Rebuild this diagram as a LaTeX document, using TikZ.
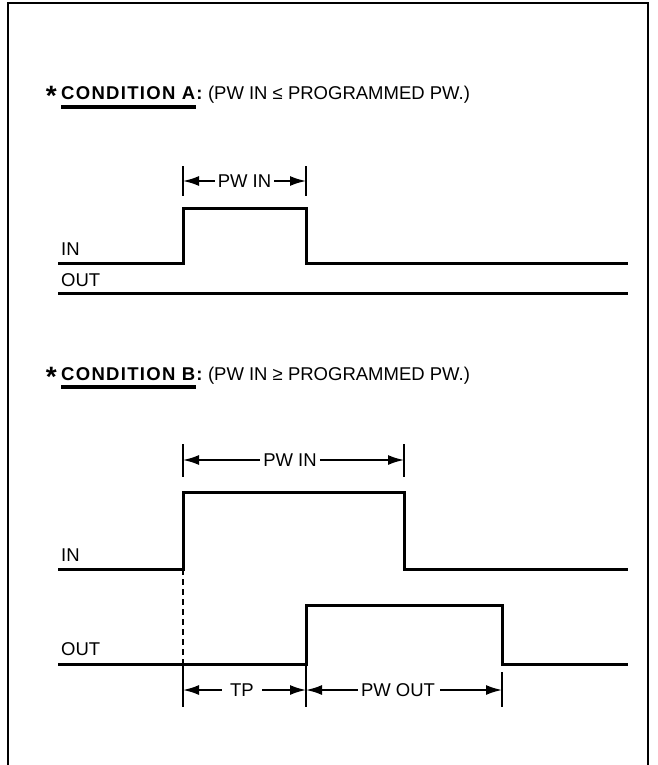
\documentclass[tikz,border=0pt]{standalone}
\usepackage{fontspec}
\setmainfont{Liberation Sans}
\newfontfamily\hdfont[LetterSpace=7]{Liberation Sans}
\usetikzlibrary{arrows.meta}
\begin{document}
\begin{tikzpicture}[x=1pt,y=-1pt,
  txt/.style={font=\fontsize{18.5}{19}\selectfont, inner sep=0pt},
  startxt/.style={font=\fontsize{28}{28}\selectfont\bfseries, inner sep=0pt},
  sig/.style={line width=3pt, line join=miter},
  tick/.style={line width=2pt},
  dimarr/.style={line width=1.8pt, -{Latex[length=16pt,width=10pt]}},
  uline/.style={line width=3.5pt},
  frame/.style={line width=2pt},
  dashln/.style={line width=1.3pt, dash pattern=on 6pt off 4pt}]
\useasboundingbox (0,0) rectangle (657,765);
\draw[frame] (8,766) -- (8,3) -- (648,3) -- (648,766);

% ---------- Condition A header
\node[txt, anchor=base west] (condA) at (61,100) {\hdfont\bfseries CONDITION A:};
\node[startxt, anchor=base east] (starA) at ([xshift=-4pt,yshift=-6pt]condA.base west) {*};
\node[txt, anchor=base west] (restA) at ([xshift=5pt]condA.base east) {(PW IN ≤ PROGRAMMED PW.)};
\draw[uline] ([yshift=-7pt]condA.base west) -- ([yshift=-7pt,xshift=-7pt]condA.base east);

% ---------- Condition A waveforms
\node[txt, anchor=base west] (inA) at (61,255) {IN};
\node[txt, anchor=base west] (outA) at (61,286) {OUT};
\coordinate (a0) at (58,263);
\coordinate (a1) at (183,263);
\coordinate (a2) at (183,208);
\coordinate (a3) at (306,208);
\coordinate (a4) at (306,263);
\coordinate (a5) at (628,263);
\draw[sig] (a0) -- (a1) -- (a2) -- (a3) -- (a4) -- (a5);
\coordinate (ao0) at (58,293);
\coordinate (ao1) at (628,293);
\draw[sig] (ao0) -- (ao1);

% dimension PW IN (A)
\coordinate (aLt) at (183,166); \coordinate (aLb) at (183,196);
\coordinate (aRt) at (306,166); \coordinate (aRb) at (306,196);
\coordinate (aL) at (183,181); \coordinate (aR) at (306,181);
\draw[tick] (aLt) -- (aLb);
\draw[tick] (aRt) -- (aRb);
\node[txt] (pwA) at (244.5,181) {PW IN};
\draw[dimarr] ([xshift=-3pt]pwA.west) -- (aL);
\draw[dimarr] ([xshift=3pt]pwA.east) -- (aR);

% ---------- Condition B header
\node[txt, anchor=base west] (condB) at (61,380) {\hdfont\bfseries CONDITION B:};
\node[startxt, anchor=base east] (starB) at ([xshift=-4pt,yshift=-6pt]condB.base west) {*};
\node[txt, anchor=base west] (restB) at ([xshift=5pt]condB.base east) {(PW IN ≥ PROGRAMMED PW.)};
\draw[uline] ([yshift=-7pt]condB.base west) -- ([yshift=-7pt,xshift=-7pt]condB.base east);

% ---------- Condition B waveforms
\node[txt, anchor=base west] (inB) at (61,561) {IN};
\node[txt, anchor=base west] (outB) at (61,655) {OUT};
\coordinate (b0) at (58,569);
\coordinate (b1) at (183,569);
\coordinate (b2) at (183,492);
\coordinate (b3) at (404,492);
\coordinate (b4) at (404,569);
\coordinate (b5) at (628,569);
\draw[sig] (b0) -- (b1) -- (b2) -- (b3) -- (b4) -- (b5);
\coordinate (c0) at (58,664);
\coordinate (c1) at (306,664);
\coordinate (c2) at (306,605);
\coordinate (c3) at (502,605);
\coordinate (c4) at (502,664);
\coordinate (c5) at (628,664);
\draw[sig] (c0) -- (c1) -- (c2) -- (c3) -- (c4) -- (c5);
\draw[dashln] (b1) -- (183,664);

% dimension PW IN (B)
\coordinate (bLt) at (183,444); \coordinate (bLb) at (183,477);
\coordinate (bRt) at (404,444); \coordinate (bRb) at (404,477);
\coordinate (bL) at (183,460); \coordinate (bR) at (404,460);
\draw[tick] (bLt) -- (bLb);
\draw[tick] (bRt) -- (bRb);
\node[txt] (pwB) at (290,460) {PW IN};
\draw[dimarr] ([xshift=-3pt]pwB.west) -- (bL);
\draw[dimarr] ([xshift=3pt]pwB.east) -- (bR);

% dimensions TP / PW OUT
\coordinate (dLt) at (183,664); \coordinate (dLb) at (183,707);
\coordinate (dMt) at (306,664); \coordinate (dMb) at (306,707);
\coordinate (dRt) at (502,672); \coordinate (dRb) at (502,707);
\coordinate (dL) at (183,690); \coordinate (dM) at (306,690); \coordinate (dR) at (502,690);
\draw[tick] (dLt) -- (dLb);
\draw[tick] (dMt) -- (dMb);
\draw[tick] (dRt) -- (dRb);
\node[txt] (tp) at (242,690) {TP};
\draw[dimarr] ([xshift=-8pt]tp.west) -- (dL);
\draw[dimarr] ([xshift=8pt]tp.east) -- (dM);
\node[txt] (pwout) at (398,690) {PW OUT};
\draw[dimarr] ([xshift=-3pt]pwout.west) -- (dM);
\draw[dimarr] ([xshift=5pt]pwout.east) -- (dR);
\end{tikzpicture}
\end{document}
